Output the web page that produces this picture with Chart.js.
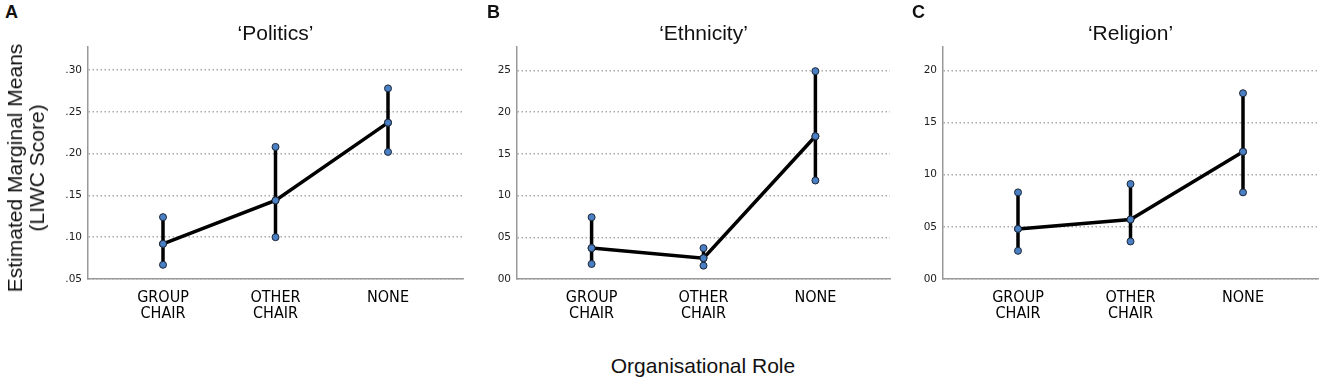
<!DOCTYPE html>
<html>
<head>
<meta charset="utf-8">
<script src="https://cdn.jsdelivr.net/npm/chart.js@4.4.1/dist/chart.umd.min.js"></script>
<style>
  body { margin: 0; background: #fff; width: 1325px; height: 384px; position: relative; overflow: hidden; }
  canvas { position: absolute; top: 0; }
  .lbl { position: absolute; font-family: "Liberation Sans", Arial, sans-serif; color: #111; white-space: nowrap; }
  .letter { font-weight: bold; font-size: 18px; line-height: 18px; top: 3px; }
</style>
</head>
<body>
<canvas id="chartA" width="430" height="330" style="left:40px"></canvas>
<canvas id="chartB" width="430" height="330" style="left:470px"></canvas>
<canvas id="chartC" width="425" height="330" style="left:900px"></canvas>

<div class="lbl letter" style="left:5px">A</div>
<div class="lbl letter" style="left:487px">B</div>
<div class="lbl letter" style="left:912px">C</div>
<div class="lbl" style="left:26px; top:168px; font-size:21px; line-height:22px; text-align:center; transform:translate(-50%,-50%) rotate(-90deg);">Estimated Marginal Means<br>(LIWC Score)</div>
<div class="lbl" style="left:703px; top:365px; font-size:21px; line-height:21px; transform:translate(-50%,-50%);">Organisational Role</div>

<script>
// ---------------- Data ----------------
const roles = [["GROUP", "CHAIR"], ["OTHER", "CHAIR"], ["NONE"]];

const politicsMean  = [0.092, 0.144, 0.237];
const politicsLower = [0.067, 0.100, 0.202];
const politicsUpper = [0.124, 0.208, 0.278];
const politicsTicks = [0.05, 0.10, 0.15, 0.20, 0.25, 0.30];
const politicsTickLabels = [".05", ".10", ".15", ".20", ".25", ".30"];

const ethnicityMean  = [0.037, 0.025, 0.171];
const ethnicityLower = [0.018, 0.016, 0.118];
const ethnicityUpper = [0.074, 0.037, 0.249];
const ethnicityTicks = [0, 0.05, 0.10, 0.15, 0.20, 0.25];
const ethnicityTickLabels = ["00", "05", "10", "15", "20", "25"];

const religionMean  = [0.048, 0.057, 0.122];
const religionLower = [0.027, 0.036, 0.083];
const religionUpper = [0.083, 0.091, 0.178];
const religionTicks = [0, 0.05, 0.10, 0.15, 0.20];
const religionTickLabels = ["00", "05", "10", "15", "20"];

// ---------------- Title plugin (centred on plot area) ----------------
const panelTitle = {
  id: 'panelTitle',
  afterDraw(chart, args, opts) {
    const {ctx, chartArea} = chart;
    ctx.save();
    ctx.font = '21px "Liberation Sans", Arial, sans-serif';
    ctx.fillStyle = '#111';
    ctx.textAlign = 'center';
    ctx.textBaseline = 'middle';
    ctx.fillText(opts.text, (chartArea.left + chartArea.right) / 2, 34);
    ctx.restore();
  }
};

// ---------------- Panel ----------------
function drawPanel(id, title, mean, lower, upper, yTicks, yLabels, yMin, yMax, axisW, padRight) {
  const pointStyle = {
    pointRadius: 3.5,
    pointBackgroundColor: '#4a7fc4',
    pointBorderColor: '#1b2636',
    pointBorderWidth: 1
  };
  const datasets = [{
    data: mean.map((v, i) => ({x: i, y: v})),
    borderColor: '#000',
    borderWidth: 3.5,
    ...pointStyle
  }];
  mean.forEach((m, i) => {
    datasets.push({
      data: [{x: i, y: lower[i]}, {x: i, y: m}, {x: i, y: upper[i]}],
      borderColor: '#000',
      borderWidth: 3.5,
      ...pointStyle
    });
  });

  new Chart(document.getElementById(id), {
    type: 'line',
    data: { datasets },
    plugins: [panelTitle],
    options: {
      responsive: false,
      animation: false,
      layout: { padding: { top: 47, right: padRight, left: 0, bottom: 0 } },
      plugins: {
        legend: { display: false },
        tooltip: { enabled: false },
        panelTitle: { text: title }
      },
      scales: {
        x: {
          type: 'linear',
          min: -2 / 3,
          max: 8 / 3,
          afterBuildTicks: s => { s.ticks = [0, 1, 2].map(v => ({value: v})); },
          afterFit: s => { s.height = 51; },
          grid: { display: false },
          border: { display: true, color: '#999', width: 1.5 },
          ticks: {
            autoSkip: false,
            maxRotation: 0,
            padding: 3,
            color: '#000',
            font: { family: '"DejaVu Sans Condensed", "DejaVu Sans", sans-serif', size: 16, lineHeight: 1.0 },
            callback: v => roles[v]
          }
        },
        y: {
          min: yMin,
          max: yMax,
          afterBuildTicks: s => { s.ticks = yTicks.map(v => ({value: v})); },
          afterFit: s => { s.width = axisW; },
          grid: { color: '#aaaaaa', lineWidth: 1.5, drawTicks: false },
          border: { display: true, color: '#999', width: 1.5, dash: [1.5, 2.5] },
          ticks: {
            padding: 6,
            color: '#222',
            font: { family: '"DejaVu Sans", sans-serif', size: 10.5 },
            callback: (v, i) => yLabels[i]
          }
        }
      }
    }
  });
}

drawPanel('chartA', '\u2018Politics\u2019', politicsMean, politicsLower, politicsUpper,
  politicsTicks, politicsTickLabels, 0.05, 0.3275, 48, 7);
drawPanel('chartB', '\u2018Ethnicity\u2019', ethnicityMean, ethnicityLower, ethnicityUpper,
  ethnicityTicks, ethnicityTickLabels, 0, 0.2779, 47, 10);
drawPanel('chartC', '\u2018Religion\u2019', religionMean, religionLower, religionUpper,
  religionTicks, religionTickLabels, 0, 0.2223, 43, 7);
</script>
</body>
</html>
